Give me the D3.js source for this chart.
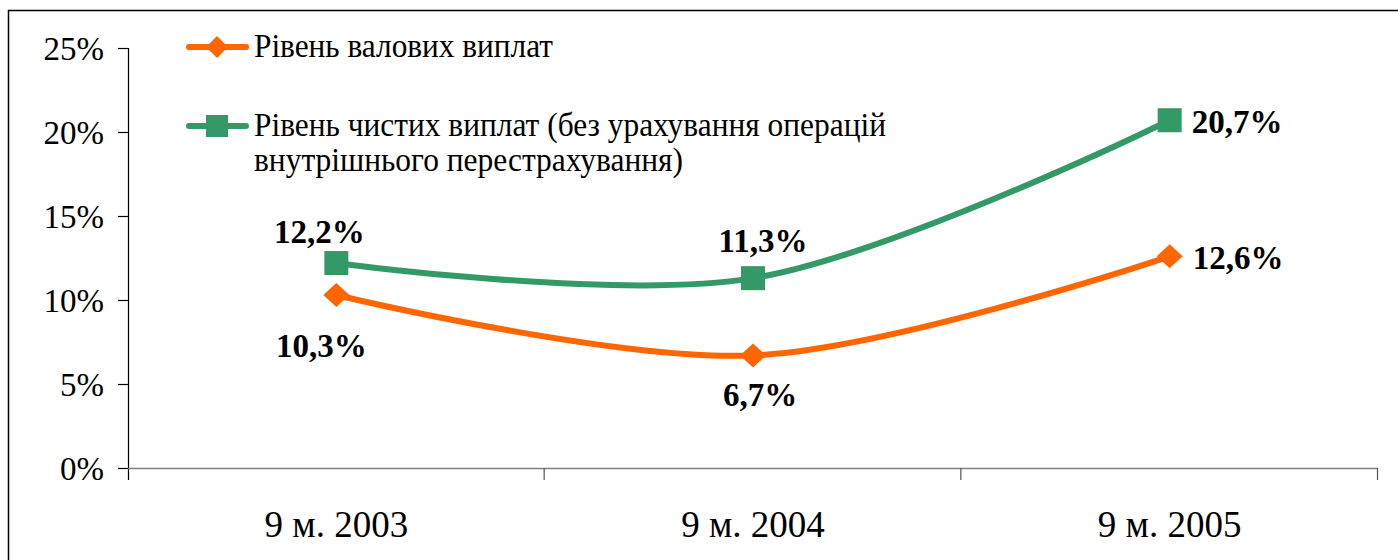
<!DOCTYPE html>
<html>
<head>
<meta charset="utf-8">
<script src="https://cdn.jsdelivr.net/npm/d3@7"></script>
<style>
  body { margin: 0; background: #fff; }
  svg { display: block; }
</style>
</head>
<body>
<svg id="chart" width="1398" height="560"></svg>
<script>
// Chart data
const categories = ["9 м. 2003", "9 м. 2004", "9 м. 2005"];
const grossValues = [0.103, 0.067, 0.126];
const netValues = [0.122, 0.113, 0.207];
const grossLabels = ["10,3%", "6,7%", "12,6%"];
const netLabels = ["12,2%", "11,3%", "20,7%"];
const yTicks = [0, 0.05, 0.10, 0.15, 0.20, 0.25];
const legendGross = ["Рівень валових виплат"];
const legendNet = ["Рівень чистих виплат (без урахування операцій", "внутрішнього перестрахування)"];

// Label placement relative to each point (dx, dy, anchor)
const grossLabelPos = [[-15, 62, "middle"], [7, 51, "middle"], [23, 13, "start"]];
const netLabelPos = [[-17, -20, "middle"], [10, -26, "middle"], [22, 13, "start"]];

const svg = d3.select("#chart");
const orange = "#FF6600";
const green = "#339966";
const serif = "'Liberation Serif', 'Times New Roman', serif";

// Outer frame
svg.append("rect")
  .attr("x", 8.5).attr("y", 10.5)
  .attr("width", 1400).attr("height", 600)
  .attr("fill", "none").attr("stroke", "#000").attr("stroke-width", 1.5);

// Scales
const x = d3.scaleBand().domain(categories).range([128, 1378]).padding(0);
const y = d3.scaleLinear().domain([0, 0.25]).range([468, 48]);
const cx = c => x(c) + x.bandwidth() / 2;

// Y axis
const yAxis = svg.append("g").attr("transform", "translate(128,0)")
  .call(d3.axisLeft(y).tickValues(yTicks).tickFormat(d3.format(".0%")).tickSize(10).tickSizeOuter(0).tickPadding(14));
yAxis.select(".domain").remove();
yAxis.append("line").attr("x1", 0.5).attr("x2", 0.5).attr("y1", 48).attr("y2", 480).attr("stroke", "#000").attr("stroke-width", 1.2);
yAxis.selectAll(".tick line").attr("stroke", "#000").attr("stroke-width", 1.2);
yAxis.selectAll(".tick text")
  .attr("font-family", serif).attr("font-size", 33).attr("fill", "#000").attr("dy", "0.34em");

// X axis
const xAxisG = svg.append("g");
xAxisG.append("line")
  .attr("x1", 128).attr("x2", 1378).attr("y1", 468.5).attr("y2", 468.5)
  .attr("stroke", "#7f7f7f").attr("stroke-width", 1.5);
const boundaries = categories.map(c => x(c)).concat([x.range()[1]]);
xAxisG.selectAll(".xtick").data(boundaries.slice(1)).enter().append("line")
  .attr("x1", d => d - 0.5).attr("x2", d => d - 0.5).attr("y1", 468).attr("y2", 480)
  .attr("stroke", "#555").attr("stroke-width", 1.2);
xAxisG.selectAll(".xlabel").data(categories).enter().append("text")
  .attr("x", d => cx(d)).attr("y", 537)
  .attr("text-anchor", "middle")
  .attr("font-family", serif).attr("font-size", 37).attr("fill", "#000")
  .text(d => d);

// Lines
const line = d3.line()
  .x((d, i) => cx(categories[i]))
  .y(d => y(d))
  .curve(d3.curveCatmullRom.alpha(0.5));

function drawSeries(values, color, shape) {
  svg.append("path")
    .attr("d", line(values))
    .attr("fill", "none").attr("stroke", color)
    .attr("stroke-width", 6).attr("stroke-linecap", "round");
  svg.selectAll(null).data(values).enter().append("path")
    .attr("transform", (d, i) => `translate(${cx(categories[i])},${y(d)})`)
    .attr("d", shape)
    .attr("fill", color);
}

const diamond = "M0,-12L13,0L0,12L-13,0Z";
const square = "M-12,-12H12V12H-12Z";

drawSeries(netValues, green, square);
drawSeries(grossValues, orange, diamond);

// Data labels
function drawLabels(values, labels, pos) {
  svg.selectAll(null).data(values).enter().append("text")
    .attr("x", (d, i) => cx(categories[i]) + pos[i][0])
    .attr("y", (d, i) => y(d) + pos[i][1])
    .attr("text-anchor", (d, i) => pos[i][2])
    .attr("font-family", serif).attr("font-weight", "bold")
    .attr("font-size", 33).attr("fill", "#000")
    .text((d, i) => labels[i]);
}
drawLabels(grossValues, grossLabels, grossLabelPos);
drawLabels(netValues, netLabels, netLabelPos);

// Legend
const legend = svg.append("g");
function legendItem(yPos, color, shape, lines, widths) {
  legend.append("line")
    .attr("x1", 189).attr("x2", 246).attr("y1", yPos).attr("y2", yPos)
    .attr("stroke", color).attr("stroke-width", 6).attr("stroke-linecap", "round");
  legend.append("path")
    .attr("transform", `translate(217,${yPos})`)
    .attr("d", shape).attr("fill", color);
  lines.forEach((t, i) => {
    legend.append("text")
      .attr("x", 254).attr("y", yPos + 10 + i * 35)
      .attr("font-family", serif).attr("font-size", 33).attr("fill", "#000")
      .attr("textLength", widths[i]).attr("lengthAdjust", "spacingAndGlyphs")
      .text(t);
  });
}
legendItem(47, orange, "M0,-11L11,0L0,11L-11,0Z", legendGross, [299]);
legendItem(126, green, "M-11,-11H11V11H-11Z", legendNet, [632, 429]);
</script>
</body>
</html>
